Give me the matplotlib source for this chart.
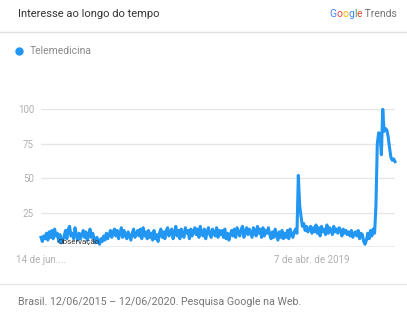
import matplotlib
matplotlib.use("Agg")
import matplotlib.pyplot as plt
from matplotlib.lines import Line2D
import numpy as np
import pandas as pd

plt.rcParams['font.family'] = ['Roboto', 'DejaVu Sans']

# weekly interest, 14/06/2015 .. 07/06/2020
y2015 = [7, 4, 8, 6, 10, 5, 11, 7, 12, 6, 13, 8, 10, 4, 9, 3, 5, 8, 12, 6, 13, 15, 8, 10, 6, 14, 9, 5, 10]
y2016 = [6, 9, 12, 7, 11, 5, 8, 13, 7, 10, 6, 3, 7, 4, 2, 6, 4, 8, 5, 10,
         6, 9, 12, 7, 11, 13, 8, 12, 6, 10, 14, 7, 12, 9, 6, 11, 8, 5, 10, 13,
         7, 9, 12, 8, 13, 6, 14, 8, 11, 6, 12, 7]
y2017 = [10, 5, 12, 6, 9, 4, 10, 13, 7, 11, 6, 12, 14, 8, 11, 13, 6, 10, 15, 8,
         12, 6, 13, 9, 7, 14, 10, 12, 6, 13, 8, 11, 14, 9, 13, 7, 15, 10, 8, 13,
         6, 11, 14, 9, 7, 13, 10, 8, 14, 7, 12, 9]
y2018 = [12, 7, 13, 6, 10, 5, 9, 12, 8, 13, 7, 14, 10, 8, 13, 15, 7, 11, 14, 9,
         13, 10, 7, 14, 12, 8, 15, 10, 13, 7, 14, 8, 12, 10, 14, 9, 6, 11, 7, 13,
         9, 5, 11, 7, 12, 6, 10, 7, 12, 6, 13, 9]
spike = [7, 11, 13, 10, 52, 30, 22, 15, 17, 12, 15]
y2019 = [11, 13, 15, 10, 14, 11, 16, 10, 14, 8, 15, 11, 13, 9, 16, 10, 14, 12, 9, 15,
         11, 13, 10, 14, 12, 8, 13, 10, 12, 9, 11, 8, 12, 7, 10, 11, 8, 12, 6, 10, 9]
dip = [4, 2, 5, 10, 6, 12, 8]
y2020 = [13, 10, 30, 75, 83, 82, 67, 100, 84, 86, 85, 80, 72, 65, 63, 64, 62]

values = y2015 + y2016 + y2017 + y2018 + spike + y2019 + dip + y2020
dates = pd.date_range("2015-06-14", periods=len(values), freq="7D")

yticks = [25, 50, 75, 100]
xtick_dates = [pd.Timestamp("2015-06-14"), pd.Timestamp("2019-04-07")]
xtick_labels = ["14 de jun....", "7 de abr. de 2019"]

W, H = 407, 314
fig = plt.figure(figsize=(W / 100, H / 100), dpi=100)
ax = fig.add_axes([41 / W, 1 - 247 / H, (395 - 41) / W, (247 - 109.3) / H])

ax.plot(dates, values, color="#2196f3", lw=2.2, clip_on=False, solid_joinstyle="round", zorder=3)
ax.set_xlim(dates[0], dates[-1])
ax.set_ylim(0, 100)

ax.set_yticks(yticks)
ax.set_yticklabels([str(v) for v in yticks])
ax.set_xticks(xtick_dates)
ax.set_xticklabels(xtick_labels)
ax.tick_params(length=0, labelsize=7, colors="#b0b0b0", pad=5)
ax.tick_params(axis="x", pad=6)
for v in yticks:
    ax.axhline(v, color="#e6e6e6", lw=1, zorder=1)
ax.axhline(0, color="#9e9e9e", lw=1, zorder=2)
for s in ax.spines.values():
    s.set_visible(False)

ax.text(dates[12], 4, "Observação", fontsize=5.8, color="#333333", ha="left", va="center", zorder=4)

# header and footer
fig.text(18 / W, 1 - 14 / H, "Interesse ao longo do tempo", fontsize=8, color="#333333", va="center")
fig.add_artist(Line2D([0, 1], [1 - 32 / H, 1 - 32 / H], color="#e0e0e0", lw=1))
fig.add_artist(Line2D([19 / W], [1 - 51 / H], marker="o", ms=5, color="#2196f3", lw=0))
fig.text(30 / W, 1 - 51 / H, "Telemedicina", fontsize=7.5, color="#8a8a8a", va="center")
fig.add_artist(Line2D([0, 1], [1 - 284 / H, 1 - 284 / H], color="#e6e6e6", lw=1))
fig.text(18 / W, 1 - 302 / H, "Brasil. 12/06/2015 \u2013 12/06/2020. Pesquisa Google na Web.",
         fontsize=7.7, color="#757575", va="center")

# Google Trends logo
pieces = [("G", "#4285f4"), ("o", "#ea4335"), ("o", "#fbbc05"), ("g", "#4285f4"),
          ("l", "#34a853"), ("e", "#ea4335"), (" Trends", "#757575")]
fig.canvas.draw()
r = fig.canvas.get_renderer()
x = 329
for txt, col in pieces:
    t = fig.text(x / W, 1 - 14 / H, txt, fontsize=7.5, color=col, va="center")
    x += t.get_window_extent(r).width

fig.savefig("out.png", dpi=100)
